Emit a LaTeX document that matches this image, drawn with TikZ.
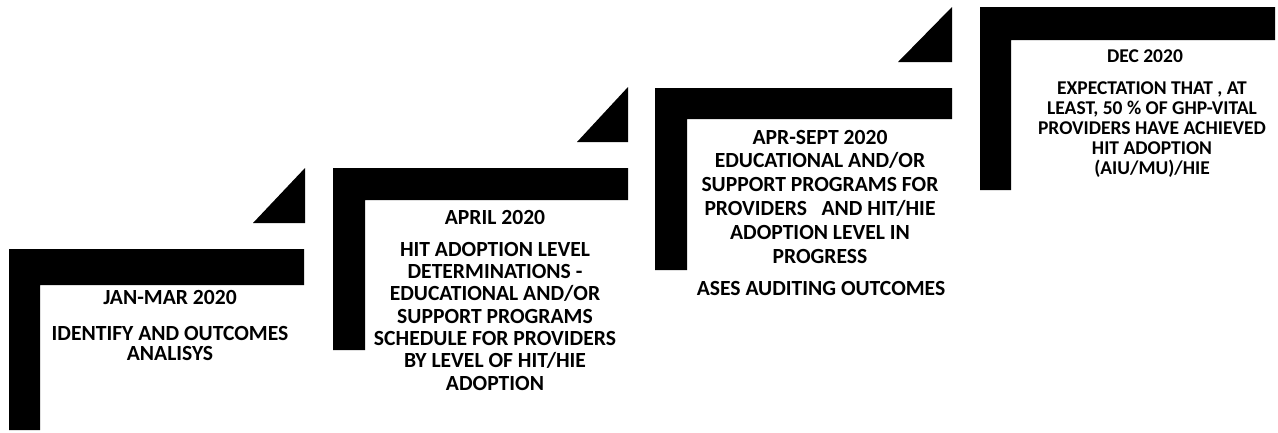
\documentclass[tikz,border=0pt]{standalone}
\usepackage{fontspec}
\setmainfont{Carlito}
\begin{document}
\begin{tikzpicture}[x=1pt,y=-1pt,
  stair/.style={fill=black},
  lbl/.style={font=\bfseries\fontsize{21.6}{20}\selectfont, align=center, inner sep=0pt, anchor=base},
  lblB/.style={lbl, font=\bfseries\fontsize{21.6}{22.3}\selectfont},
  lblC/.style={lbl, font=\bfseries\fontsize{21.6}{23.8}\selectfont},
  lblD/.style={lbl, font=\bfseries\fontsize{19.5}{19.9}\selectfont}]
\useasboundingbox (0,0) rectangle (1278,432);
% step 1
\fill[stair] (9,249) -- (304,249) -- (304,285) -- (40,285) -- (40,430) -- (9,430) -- cycle;
\fill[stair] (253,223) -- (305,168) -- (305,223) -- cycle;
% step 2
\fill[stair] (333,168) -- (628,168) -- (628,200) -- (365,200) -- (365,350) -- (333,350) -- cycle;
\fill[stair] (577,142) -- (628,87) -- (628,142) -- cycle;
% step 3
\fill[stair] (655,88) -- (952,88) -- (952,119) -- (687,119) -- (687,270) -- (655,270) -- cycle;
\fill[stair] (898,62) -- (952,7) -- (952,62) -- cycle;
% step 4
\fill[stair] (980,7) -- (1275,7) -- (1275,40) -- (1011,40) -- (1011,190) -- (980,190) -- cycle;
% texts (anchor = baseline of last line)
\node[lbl] (t1) at (170,304) {JAN-MAR 2020};
\node[lbl] (b1) at (170,360) {IDENTIFY AND OUTCOMES\\ANALISYS};
\node[lblB] (t2) at (495,224) {APRIL 2020};
\node[lblB] (b2) at (495,390) {HIT ADOPTION LEVEL\\DETERMINATIONS -\\EDUCATIONAL AND/OR\\SUPPORT PROGRAMS\\SCHEDULE FOR PROVIDERS\\BY LEVEL OF HIT/HIE\\ADOPTION};
\node[lblC] (b3) at (820,263) {APR-SEPT 2020\\EDUCATIONAL AND/OR\\SUPPORT PROGRAMS FOR\\PROVIDERS\ \ \ AND HIT/HIE\\ADOPTION LEVEL IN\\PROGRESS};
\node[lbl] (a3) at (821,295) {ASES AUDITING OUTCOMES};
\node[lblD] (t4) at (1145,62) {DEC 2020};
\node[lblD] (b4) at (1152,174) {EXPECTATION THAT , AT\\LEAST, 50 \% OF GHP-VITAL\\PROVIDERS HAVE ACHIEVED\\HIT ADOPTION\\(AIU/MU)/HIE};
\end{tikzpicture}
\end{document}
